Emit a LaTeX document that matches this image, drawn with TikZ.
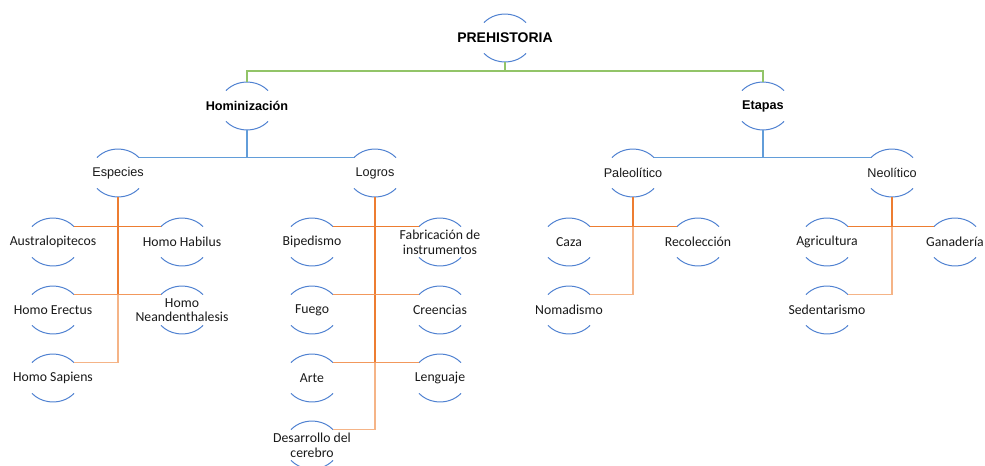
\documentclass[tikz,border=0pt]{standalone}
\usepackage{fontspec}
\setmainfont{Carlito}
\newfontfamily\headfont{Liberation Sans}
\usetikzlibrary{positioning}

\definecolor{arcblue}{RGB}{79,129,209}
\definecolor{linegreen}{RGB}{146,196,104}
\definecolor{lineblue}{RGB}{98,157,217}
\definecolor{orangedark}{RGB}{237,125,49}
\definecolor{orangemid}{RGB}{242,152,92}
\definecolor{orangelight}{RGB}{245,180,135}

\tikzset{every picture/.style={line width=0.75pt}}
\tikzset{
  root/.style={font=\headfont\bfseries\fontsize{10.5}{12}\selectfont, inner sep=0pt},
  head/.style={font=\headfont\bfseries\fontsize{9.5}{11}\selectfont, inner sep=0pt},
  sub/.style={font=\headfont\fontsize{9.5}{11}\selectfont, inner sep=0pt, text=black!90},
  item/.style={font=\fontsize{10.3}{11}\selectfont, align=center, inner sep=0pt, text=black!90},
  bow/.style={draw=arcblue, line width=0.75pt},
  green link/.style={draw=linegreen, line width=1.2pt},
  blue link/.style={draw=lineblue, line width=1.2pt},
  dark link/.style={draw=orangedark, line width=1.2pt},
  mid link/.style={draw=orangemid, line width=1.2pt},
  light link/.style={draw=orangelight, line width=1.2pt}
}

% arcs above and below a label, with named ends
\newcommand{\bownode}[1]{%
  \path (#1.center) ++(-21,-15.4) coordinate (#1-tl);
  \path (#1.center) ++(21,-15.4) coordinate (#1-tr);
  \path (#1.center) ++(0,-24) coordinate (#1-t);
  \path (#1.center) ++(0,24) coordinate (#1-b);
  \draw[bow] (#1-tl) arc[start angle=220, end angle=320, x radius=27.4, y radius=24];
  \path (#1.center) ++(21,15.4) coordinate (#1-br);
  \draw[bow] (#1-br) arc[start angle=40, end angle=140, x radius=27.4, y radius=24];
}

\begin{document}
\begin{tikzpicture}[x=0.75pt,y=0.75pt,yscale=-1,xscale=1]
\path[use as bounding box] (0,0) rectangle (985,465);

% Text Node
\node[root] (prehist) at (505,38) {PREHISTORIA};
% Text Node
\node[head] (homin) at (247,106) {Hominización};
\node[head] (etapas) at (763,106) {Etapas};
% Text Node
\node[sub] (especies) at (118,173) {Especies};
\node[sub] (logros) at (375,173) {Logros};
\node[sub] (paleo) at (633,173) {Paleolítico};
\node[sub] (neo) at (892,173) {Neolítico};
% Text Node
\node[item] (austra) at (53,242) {Australopitecos};
\node[item] (habilus) at (182,242) {Homo Habilus};
\node[item] (erectus) at (53,310) {Homo Erectus};
\node[item] (neander) at (182,310) {Homo\\Neandenthalesis};
\node[item] (sapiens) at (53,378) {Homo Sapiens};
% Text Node
\node[item] (biped) at (312,242) {Bipedismo};
\node[item] (fabric) at (440,242) {Fabricación de\\instrumentos};
\node[item] (fuego) at (312,310) {Fuego};
\node[item] (creenc) at (440,310) {Creencias};
\node[item] (arte) at (312,378) {Arte};
\node[item] (lenguaje) at (440,378) {Lenguaje};
\node[item] (cerebro) at (312,445) {Desarrollo del\\cerebro};
% Text Node
\node[item] (caza) at (569,242) {Caza};
\node[item] (recol) at (698,242) {Recolección};
\node[item] (nomad) at (569,310) {Nomadismo};
% Text Node
\node[item] (agri) at (827,242) {Agricultura};
\node[item] (ganad) at (955,242) {Ganadería};
\node[item] (sedent) at (827,310) {Sedentarismo};

%Shape: Arcs
\foreach \n in {prehist,homin,etapas,especies,logros,paleo,neo,
  austra,habilus,erectus,neander,sapiens,
  biped,fabric,fuego,creenc,arte,lenguaje,cerebro,
  caza,recol,nomad,agri,ganad,sedent}
  {\bownode{\n}}

%Straight Lines: level 1
\path (prehist-b) ++(0,9) coordinate (rootbar);
\draw[green link] (prehist-b) -- (rootbar);
\draw[green link] (homin-t) |- (rootbar) -| (etapas-t);

%Straight Lines: level 2
\draw[blue link] (homin-b) -- (homin-b |- especies-tr);
\draw[blue link] (especies-tr) -- (logros-tl);
\draw[blue link] (etapas-b) -- (etapas-b |- paleo-tr);
\draw[blue link] (paleo-tr) -- (neo-tl);

%Straight Lines: Especies
\draw[dark link] (especies-b) -- (especies-b |- erectus-tr);
\draw[light link] (especies-b |- erectus-tr) -- (especies-b |- sapiens-tr);
\draw[dark link] (austra-tr) -- (habilus-tl);
\draw[mid link] (erectus-tr) -- (neander-tl);
\draw[light link] (sapiens-tr) -- (especies-b |- sapiens-tr);

%Straight Lines: Logros
\draw[dark link] (logros-b) -- (logros-b |- arte-tr);
\draw[light link] (logros-b |- arte-tr) -- (logros-b |- cerebro-tr);
\draw[dark link] (biped-tr) -- (fabric-tl);
\draw[mid link] (fuego-tr) -- (creenc-tl);
\draw[mid link] (arte-tr) -- (lenguaje-tl);
\draw[light link] (cerebro-tr) -- (logros-b |- cerebro-tr);

%Straight Lines: Paleolitico
\draw[dark link] (paleo-b) -- (paleo-b |- caza-tr);
\draw[light link] (paleo-b |- caza-tr) -- (paleo-b |- nomad-tr);
\draw[dark link] (caza-tr) -- (recol-tl);
\draw[light link] (nomad-tr) -- (paleo-b |- nomad-tr);

%Straight Lines: Neolitico
\draw[dark link] (neo-b) -- (neo-b |- agri-tr);
\draw[light link] (neo-b |- agri-tr) -- (neo-b |- sedent-tr);
\draw[dark link] (agri-tr) -- (ganad-tl);
\draw[light link] (sedent-tr) -- (neo-b |- sedent-tr);

\end{tikzpicture}
\end{document}
